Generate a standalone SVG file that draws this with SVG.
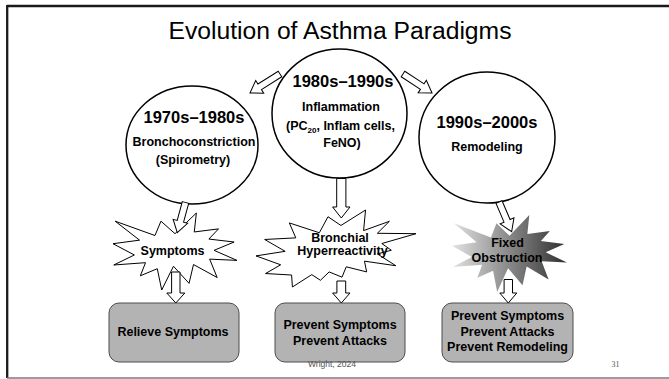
<svg xmlns="http://www.w3.org/2000/svg" width="669" height="379" viewBox="0 0 669 379">
<style>
.t{font-family:"Liberation Sans",Arial,sans-serif;fill:#000;text-anchor:middle}
.h{font-size:16.5px;font-weight:bold}
.b{font-size:12.5px;font-weight:bold}
.circ{fill:#fff;stroke:#000;stroke-width:1.5}
.star{fill:#fff;stroke:#000;stroke-width:1;vector-effect:non-scaling-stroke}
.box{fill:#b3b3b3;stroke:#4d4d4d;stroke-width:1}
.arr{fill:#fff;stroke:#000;stroke-width:1;stroke-linejoin:miter}
</style>
<defs>
<linearGradient id="gfix" x1="0" y1="0" x2="1" y2="0">
<stop offset="0" stop-color="#e2e2e2"/>
<stop offset="1" stop-color="#2e2e2e"/>
</linearGradient>
</defs>
<rect x="0" y="0" width="669" height="379" fill="#fff"/>
<g id="frame">
<line x1="7" y1="6" x2="669" y2="6" stroke="#1a1a1a" stroke-width="2.3"/>
<line x1="7.2" y1="5" x2="7.2" y2="378" stroke="#1a1a1a" stroke-width="2.3"/>
<line x1="7" y1="378" x2="669" y2="378" stroke="#7a7a7a" stroke-width="1.5"/>
</g>
<text id="title" class="t" x="340" y="39" font-size="23.5" textLength="343" lengthAdjust="spacingAndGlyphs">Evolution of Asthma Paradigms</text>

<g id="n1970">
<ellipse class="circ" cx="192" cy="145" rx="66" ry="59"/>
<text class="t h" x="194" y="123">1970s–1980s</text>
<text class="t b" x="194" y="146">Bronchoconstriction</text>
<text class="t b" x="193" y="164">(Spirometry)</text>
</g>
<g id="n1980">
<ellipse class="circ" cx="339.5" cy="113.5" rx="67.5" ry="64.5"/>
<text class="t h" x="343" y="86.5">1980s–1990s</text>
<text class="t b" x="341" y="111">Inflammation</text>
<text class="t b" x="340.5" y="130">(PC<tspan font-size="8" dy="3">20</tspan><tspan dy="-3">, Inflam cells,</tspan></text>
<text class="t b" x="342" y="146.5">FeNO)</text>
</g>
<g id="n1990">
<ellipse class="circ" cx="487" cy="137.5" rx="68" ry="65.5"/>
<text class="t h" x="487" y="127.5">1990s–2000s</text>
<text class="t b" x="487" y="151">Remodeling</text>
</g>

<g id="symptoms">
<path class="star" transform="translate(113,213) scale(0.0057407,0.0035648)" d="M10800,5800L14522,0 14155,5325 18380,4457 16702,7315 21097,8137 17607,10475 21600,13290 16837,12942 18145,18095 14020,14457 13247,19737 10532,14935 8485,21600 7715,15627 4762,17617 5667,13937 135,14587 3722,11775 0,8615 4627,7617 370,2295 7312,6320 8352,2295Z"/>
<text class="t b" x="172.5" y="254.5">Symptoms</text>
</g>
<g id="bhr">
<path class="star" transform="translate(256,210) scale(0.0074074,0.0035648)" d="M11462,4342L14790,0 14525,5777 18007,3172 16380,6532 21600,6645 16985,9402 18270,11290 16380,12310 18877,15632 14640,14350 14942,17370 12180,15935 11612,18842 9872,17370 8700,19712 7527,18125 4917,21600 4805,18240 1285,17825 3330,15370 0,12877 3935,11592 1172,8270 5372,7817 4502,3625 8550,6382 9722,1887Z"/>
<text class="t b" x="340" y="241.5">Bronchial</text>
<text class="t b" x="342.5" y="255">Hyperreactivity</text>
</g>
<g id="fixed">
<path transform="translate(452,215) scale(0.0053241,0.0035648)" fill="url(#gfix)" d="M10800,5800L14522,0 14155,5325 18380,4457 16702,7315 21097,8137 17607,10475 21600,13290 16837,12942 18145,18095 14020,14457 13247,19737 10532,14935 8485,21600 7715,15627 4762,17617 5667,13937 135,14587 3722,11775 0,8615 4627,7617 370,2295 7312,6320 8352,2295Z"/>
<text class="t b" x="507.5" y="247">Fixed</text>
<text class="t b" x="507" y="261.5">Obstruction</text>
</g>

<g id="relieve">
<rect class="box" x="109" y="303" width="130" height="59" rx="10"/>
<text class="t b" x="173" y="336">Relieve Symptoms</text>
</g>
<g id="prevent2">
<rect class="box" x="275" y="303" width="130" height="59" rx="10"/>
<text class="t b" x="340" y="329">Prevent Symptoms</text>
<text class="t b" x="340" y="344.5">Prevent Attacks</text>
</g>
<g id="prevent3">
<rect class="box" x="442" y="303" width="131" height="59" rx="10"/>
<text class="t b" x="507.5" y="320">Prevent Symptoms</text>
<text class="t b" x="507.5" y="335.5">Prevent Attacks</text>
<text class="t b" x="507.5" y="351">Prevent Remodeling</text>
</g>

<g id="connectors">
<path class="arr" transform="translate(280,74) rotate(57.7)" d="M-3.3,0L3.3,0L3.3,24L7.5,24L0,35.5L-7.5,24L-3.3,24Z"/>
<path class="arr" transform="translate(403,74) rotate(-56.8)" d="M-3.3,0L3.3,0L3.3,23L7.5,23L0,34.7L-7.5,23L-3.3,23Z"/>
<path class="arr" transform="translate(185.5,202.5) rotate(15.2)" d="M-3.3,0L3.3,0L3.3,19.5L7.5,19.5L0,31.3L-7.5,19.5L-3.3,19.5Z"/>
<path class="arr" transform="translate(341.3,178.5)" d="M-4.6,0L4.6,0L4.6,28.5L8.7,28.5L0,39.5L-8.7,28.5L-4.6,28.5Z"/>
<path class="arr" transform="translate(499,202) rotate(-23.1)" d="M-3.3,0L3.3,0L3.3,20.5L7.5,20.5L0,32.3L-7.5,20.5L-3.3,20.5Z"/>
<path class="arr" transform="translate(175.8,272)" d="M-4.2,0L4.2,0L4.2,21L9,21L0,31L-9,21L-4.2,21Z"/>
<path class="arr" transform="translate(341.3,281)" d="M-4.4,0L4.4,0L4.4,12L8.7,12L0,22L-8.7,12L-4.4,12Z"/>
<path class="arr" transform="translate(508.3,279.5)" d="M-4.2,0L4.2,0L4.2,13.5L8.5,13.5L0,23.5L-8.5,13.5L-4.2,13.5Z"/>
</g>

<text id="footer" x="332" y="367" font-family="'Liberation Sans',Arial,sans-serif" font-size="8.5" fill="#555" text-anchor="middle">Wright, 2024</text>
<text id="page" x="615.5" y="367" font-family="'Liberation Serif','Times New Roman',serif" font-size="8" fill="#555" text-anchor="middle">31</text>
</svg>
